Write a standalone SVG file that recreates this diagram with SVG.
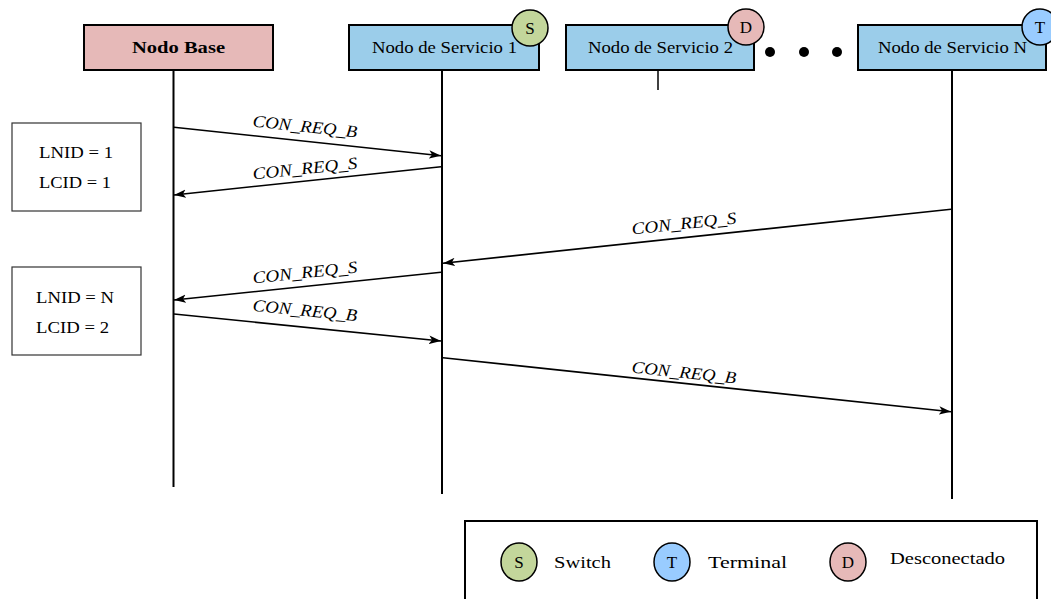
<svg xmlns="http://www.w3.org/2000/svg" width="1051" height="599" viewBox="0 0 1051 599">
<style>
  .box { stroke: #000; stroke-width: 2; }
  .base { fill: #e6b9b8; }
  .svc { fill: #9bcdea; }
  .lbl { font-family: "Liberation Serif", "Times New Roman", serif; font-size: 17px; fill: #000; text-anchor: middle; }
  .bold { font-weight: bold; }
  .msg { font-family: "Liberation Serif", "Times New Roman", serif; font-style: italic; font-size: 17px; fill: #000; text-anchor: middle; }
  .life { stroke: #000; stroke-width: 2; fill: none; }
  .arrow { stroke: #000; stroke-width: 1.6; fill: none; marker-end: url(#ah); }
  .sw { fill: #c3d69b; stroke: #000; stroke-width: 1.5; }
  .te { fill: #99ccff; stroke: #000; stroke-width: 1.5; }
  .de { fill: #e6b9b8; stroke: #000; stroke-width: 1.5; }
  .idbox { fill: #fff; stroke: #333; stroke-width: 1.2; }
  .leg { font-family: "Liberation Serif", "Times New Roman", serif; font-size: 17px; fill: #000; }
</style>
<defs>
  <marker id="ah" markerUnits="userSpaceOnUse" markerWidth="14" markerHeight="10" refX="12" refY="5" orient="auto">
    <path d="M0,0.8 L12,5 L0,9.2 L3,5 Z" fill="#000"/>
  </marker>
</defs>
<rect width="1051" height="599" fill="#fff"/>

<g id="lifelines">
  <line class="life" x1="173.5" y1="70" x2="173.5" y2="487"/>
  <line class="life" x1="442" y1="70" x2="442" y2="494"/>
  <line class="life" x1="658" y1="70" x2="658" y2="90" style="stroke-width:1.5"/>
  <line class="life" x1="952" y1="70" x2="952" y2="499"/>
</g>

<g id="node-base">
  <rect class="box base" x="84" y="25" width="189" height="45"/>
  <text class="lbl bold" x="178.5" y="53" textLength="93" lengthAdjust="spacingAndGlyphs">Nodo Base</text>
</g>
<g id="node-s1">
  <rect class="box svc" x="349" y="25" width="190" height="45"/>
  <text class="lbl" x="444.5" y="53" textLength="145" lengthAdjust="spacingAndGlyphs">Nodo de Servicio 1</text>
  <circle class="sw" cx="530" cy="28" r="18"/>
  <text class="lbl" x="530" y="34">S</text>
</g>
<g id="node-s2">
  <rect class="box svc" x="566" y="25" width="188" height="45"/>
  <text class="lbl" x="660.5" y="53" textLength="145" lengthAdjust="spacingAndGlyphs">Nodo de Servicio 2</text>
  <circle class="de" cx="746" cy="27" r="18"/>
  <text class="lbl" x="746" y="33">D</text>
</g>
<g id="dots">
  <circle cx="770" cy="52" r="5" fill="#000"/>
  <circle cx="804" cy="52" r="5" fill="#000"/>
  <circle cx="837" cy="52" r="5" fill="#000"/>
</g>
<g id="node-sN">
  <rect class="box svc" x="858" y="25" width="188" height="45"/>
  <text class="lbl" x="952.5" y="53" textLength="149" lengthAdjust="spacingAndGlyphs">Nodo de Servicio N</text>
  <circle class="te" cx="1040" cy="27" r="18"/>
  <text class="lbl" x="1040" y="33">T</text>
</g>

<g id="id-box-1">
  <rect class="idbox" x="12" y="123" width="129" height="88"/>
  <text class="lbl" x="76" y="158" textLength="74" lengthAdjust="spacingAndGlyphs">LNID = 1</text>
  <text class="lbl" x="75" y="188" textLength="72" lengthAdjust="spacingAndGlyphs">LCID = 1</text>
</g>
<g id="id-box-2">
  <rect class="idbox" x="12" y="267" width="129" height="88"/>
  <text class="lbl" x="75" y="303" textLength="78" lengthAdjust="spacingAndGlyphs">LNID = N</text>
  <text class="lbl" x="72.5" y="333" textLength="73" lengthAdjust="spacingAndGlyphs">LCID = 2</text>
</g>

<g id="connectors">
  <line class="arrow" x1="174" y1="127.3" x2="441" y2="155.7"/>
  <line class="arrow" x1="441" y1="166.7" x2="174" y2="195"/>
  <line class="arrow" x1="951" y1="209.3" x2="443" y2="263.3"/>
  <line class="arrow" x1="441" y1="272.3" x2="174" y2="300"/>
  <line class="arrow" x1="174" y1="314" x2="441" y2="341"/>
  <line class="arrow" x1="443" y1="357.7" x2="951" y2="411.7"/>
  <text class="msg" x="305" y="132" textLength="105" lengthAdjust="spacingAndGlyphs" transform="rotate(6 305 127)">CON_REQ_B</text>
  <text class="msg" x="305" y="174" textLength="105" lengthAdjust="spacingAndGlyphs" transform="rotate(-6 305 169)">CON_REQ_S</text>
  <text class="msg" x="684" y="229" textLength="105" lengthAdjust="spacingAndGlyphs" transform="rotate(-6 684 224)">CON_REQ_S</text>
  <text class="msg" x="305" y="278" textLength="105" lengthAdjust="spacingAndGlyphs" transform="rotate(-6 305 273)">CON_REQ_S</text>
  <text class="msg" x="305" y="316" textLength="105" lengthAdjust="spacingAndGlyphs" transform="rotate(5.7 305 311)">CON_REQ_B</text>
  <text class="msg" x="684" y="378" textLength="105" lengthAdjust="spacingAndGlyphs" transform="rotate(6 684 373)">CON_REQ_B</text>
</g>

<g id="legend">
  <rect x="465" y="521" width="572" height="90" fill="#fff" stroke="#000" stroke-width="2"/>
  <ellipse class="sw" cx="519" cy="562" rx="18" ry="19"/>
  <text class="lbl" x="519" y="568">S</text>
  <text class="leg" x="554" y="568" textLength="57" lengthAdjust="spacingAndGlyphs">Switch</text>
  <ellipse class="te" cx="672" cy="562" rx="18" ry="19"/>
  <text class="lbl" x="672" y="568">T</text>
  <text class="leg" x="708" y="568" textLength="79" lengthAdjust="spacingAndGlyphs">Terminal</text>
  <ellipse class="de" cx="848" cy="562" rx="18" ry="19"/>
  <text class="lbl" x="848" y="568">D</text>
  <text class="leg" x="890" y="564" textLength="115" lengthAdjust="spacingAndGlyphs">Desconectado</text>
</g>
</svg>
